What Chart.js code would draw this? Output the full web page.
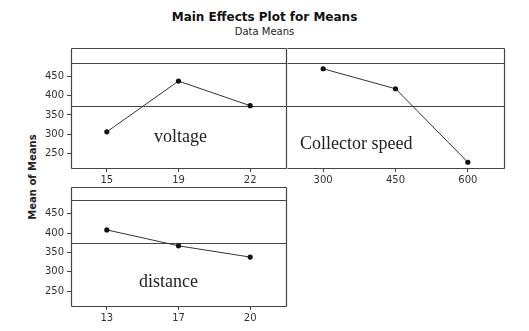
<!DOCTYPE html>
<html>
<head>
<meta charset="utf-8">
<script src="https://cdn.jsdelivr.net/npm/chart.js@4/dist/chart.umd.min.js"></script>
<style>
  html, body { margin:0; padding:0; background:#fff; }
  #wrap { position:relative; width:529px; height:331px; overflow:hidden; background:#fff; }
  canvas { position:absolute; }
  .t { position:absolute; white-space:nowrap; color:#111; }
  .title { left:0; width:529px; text-align:center; font-family:"DejaVu Sans"; }
  .lab { font-family:"Liberation Serif"; font-size:18px; line-height:18px; color:#222; }
</style>
</head>
<body>
<div id="wrap">
  <div class="t title" style="top:10px;font-size:12px;font-weight:bold;line-height:14px;">Main Effects Plot for Means</div>
  <div class="t title" style="top:26px;font-size:10px;line-height:12px;color:#222;">Data Means</div>
  <div class="t" style="left:-17px;top:171px;width:100px;text-align:center;font-family:'DejaVu Sans';font-size:10px;font-weight:bold;line-height:12px;transform:rotate(-90deg);color:#222;">Mean of Means</div>
  <canvas id="cA" width="290" height="160" style="left:0px;top:40px;"></canvas>
  <canvas id="cB" width="246" height="160" style="left:283px;top:40px;"></canvas>
  <canvas id="cC" width="290" height="151" style="left:0px;top:180px;"></canvas>
  <div class="t lab" style="left:154px;top:127px;">voltage</div>
  <div class="t lab" style="left:300px;top:134px;">Collector speed</div>
  <div class="t lab" style="left:139px;top:272px;">distance</div>
</div>
<script>
// ---- data ----
const voltageLevels   = ['15', '19', '22'];
const voltageMeans    = [306, 438, 374];
const collectorLevels = ['300', '450', '600'];
const collectorMeans  = [470, 418, 227];
const distanceLevels  = ['13', '17', '20'];
const distanceMeans   = [408, 367, 338];
const grandMean = 373;
const yTicks = [250, 300, 350, 400, 450];
const yMin = 212, yMax = 485;

const framePlugin = {
  id: 'frame',
  beforeDatasetsDraw(chart, args, o) {
    const ctx = chart.ctx, a = chart.chartArea;
    const y = Math.round(chart.scales.y.getPixelForValue(grandMean)) + 0.5;
    ctx.save();
    ctx.strokeStyle = '#444';
    ctx.lineWidth = 1.2;
    ctx.beginPath();
    ctx.moveTo(a.left, y); ctx.lineTo(a.right, y);
    ctx.stroke();
    ctx.restore();
  },
  afterDraw(chart, args, o) {
    const ctx = chart.ctx, a = chart.chartArea;
    const l = Math.round(a.left) + 0.5, r = Math.round(a.right) + 0.5;
    const t = Math.round(a.top) + 0.5, b = Math.round(a.bottom) + 0.5;
    const top = t - o.stripH;
    ctx.save();
    ctx.strokeStyle = '#444';
    ctx.lineWidth = 1.2;
    ctx.beginPath();
    ctx.moveTo(l, top); ctx.lineTo(r, top);
    ctx.moveTo(r, top); ctx.lineTo(r, b);
    ctx.moveTo(l, b); ctx.lineTo(r, b);
    if (!o.noLeft) { ctx.moveTo(l, top); ctx.lineTo(l, b); }
    ctx.moveTo(l, t); ctx.lineTo(r, t);
    ctx.stroke();
    ctx.restore();
  }
};

function makePanel(id, labels, values, o) {
  return new Chart(document.getElementById(id), {
    type: 'line',
    data: {
      labels: labels,
      datasets: [{
        data: values,
        borderColor: '#333',
        borderWidth: 1,
        pointRadius: 2.6,
        pointBackgroundColor: '#111',
        pointBorderColor: '#111',
        pointBorderWidth: 0,
        tension: 0,
        fill: false
      }]
    },
    options: {
      responsive: false,
      maintainAspectRatio: false,
      animation: false,
      events: [],
      layout: { padding: { top: o.padTop, right: o.padRight, left: 0, bottom: 0 } },
      plugins: {
        legend: { display: false },
        tooltip: { enabled: false },
        title: { display: false },
        frame: { stripH: o.stripH, noLeft: !!o.noLeft }
      },
      scales: {
        x: {
          type: 'category',
          offset: true,
          grid: { display: true, drawOnChartArea: false, drawTicks: true, tickLength: 4, color: '#444', lineWidth: 1 },
          border: { display: false },
          ticks: { font: { family: 'DejaVu Sans', size: 10 }, color: '#333', padding: 2, maxRotation: 0, autoSkip: false },
          afterFit(s) { s.height = o.xH; }
        },
        y: {
          display: o.showY,
          min: yMin,
          max: yMax,
          afterBuildTicks(s) { s.ticks = yTicks.map(v => ({ value: v })); },
          grid: { display: true, drawOnChartArea: false, drawTicks: true, tickLength: 4, color: '#444', lineWidth: 1 },
          border: { display: false },
          ticks: { font: { family: 'DejaVu Sans', size: 10 }, color: '#333', padding: 3 },
          afterFit(s) { s.width = o.showY ? 71 : 0; }
        }
      }
    },
    plugins: [framePlugin]
  });
}

makePanel('cA', voltageLevels, voltageMeans,   { padTop: 23, padRight: 3,  xH: 32, showY: true,  stripH: 15 });
makePanel('cB', collectorLevels, collectorMeans, { padTop: 23, padRight: 25, xH: 32, showY: false, stripH: 15, noLeft: true });
makePanel('cC', distanceLevels, distanceMeans, { padTop: 20, padRight: 3,  xH: 25, showY: true,  stripH: 13 });
</script>
</body>
</html>
